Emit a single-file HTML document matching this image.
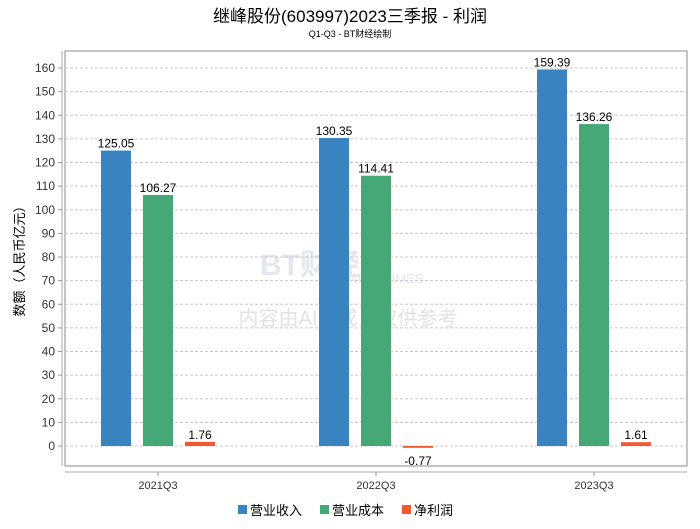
<!DOCTYPE html>
<html><head><meta charset="utf-8"><style>
body{margin:0;background:#fff;font-family:"Liberation Sans","Noto Sans CJK SC",sans-serif}
svg text{font-family:"Liberation Sans","Noto Sans CJK SC",sans-serif}
</style></head><body>
<svg id="c" width="700" height="524">
<text x="350" y="22" text-anchor="middle" font-size="17" fill="#000">继峰股份(603997)2023三季报 - 利润</text>
<text x="350" y="37" text-anchor="middle" font-size="9" fill="#000">Q1-Q3 - BT财经绘制</text>
<rect x="65" y="51" width="622" height="415" fill="#fff" stroke="#888"/>
<line x1="62" y1="51" x2="62" y2="466" stroke="#aaa"/>
<line x1="65" y1="472" x2="687" y2="472" stroke="#aaa"/>
<text x="260" y="275" font-size="30" fill="#e4e8ee" font-weight="bold">BT财经</text>
<text x="318" y="283" font-size="13" fill="#e4e8ee">BUSINESSTIMES</text>
<text x="348" y="325" text-anchor="middle" font-size="20" fill="#e2e2e2">内容由AI生成，仅供参考</text>
<text transform="translate(24,258) rotate(-90)" text-anchor="middle" font-size="13">数额（人民币亿元）</text>
<g id="g"></g>
<g>
<rect x="238" y="505" width="9" height="9" fill="#3a83c1"/>
<text x="250" y="515" font-size="13">营业收入</text>
<rect x="320" y="505" width="9" height="9" fill="#45a876"/>
<text x="332" y="515" font-size="13">营业成本</text>
<rect x="402" y="505" width="9" height="9" fill="#ef5a2e"/>
<text x="414" y="515" font-size="13">净利润</text>
</g>
</svg>
<script>
const categories=["2021Q3","2022Q3","2023Q3"];
const revenue=[125.05,130.35,159.39];
const cost=[106.27,114.41,136.26];
const profit=[1.76,-0.77,1.61];
const yTicks=[0,10,20,30,40,50,60,70,80,90,100,110,120,130,140,150,160];
const NS="http://www.w3.org/2000/svg",g=document.getElementById('g');
const y=v=>446-v*(446-68)/160;
const xc=i=>158+i*218;
function mk(t,a){const e=document.createElementNS(NS,t);for(const k in a)e.setAttribute(k,a[k]);g.appendChild(e);return e;}
yTicks.forEach(v=>{
 const l=mk('line',{x1:65,x2:687,y1:y(v),y2:y(v),stroke:'#c8c8c8','stroke-dasharray':'3,2'});
 
 
 const tk=mk('line',{x1:58,x2:62,y1:y(v),y2:y(v),stroke:'#999'});
 
 
 const t=mk('text',{x:55,y:y(v)+4,'text-anchor':'end','font-size':12,fill:'#333'});t.textContent=v;
 
 
});
const series=[[revenue,'#3a83c1',-42,'revenue'],[cost,'#45a876',0,'cost'],[profit,'#ef5a2e',42,'profit']];
categories.forEach((c,i)=>{
 const tk=mk('line',{x1:xc(i),x2:xc(i),y1:472,y2:476,stroke:'#999'});
 
 
 const t=mk('text',{x:xc(i),y:489,'text-anchor':'middle','font-size':11,fill:'#333'});t.textContent=c;
 
 
 series.forEach(([arr,col,off,nm])=>{
  const v=arr[i],x=xc(i)+off-15,top=Math.min(y(v),y(0)),h=Math.max(Math.abs(y(v)-y(0)),1.5);
  const r=mk('rect',{x:x,y:top,width:30,height:h,fill:col});
  
  
  const ly=v>=0?y(v)-3:y(v)+17;
  const lt=mk('text',{x:x+15,y:ly,'text-anchor':'middle','font-size':12,fill:'#000'});lt.textContent=v.toFixed(2);
  
  
 });
});
</script>
</body></html>
